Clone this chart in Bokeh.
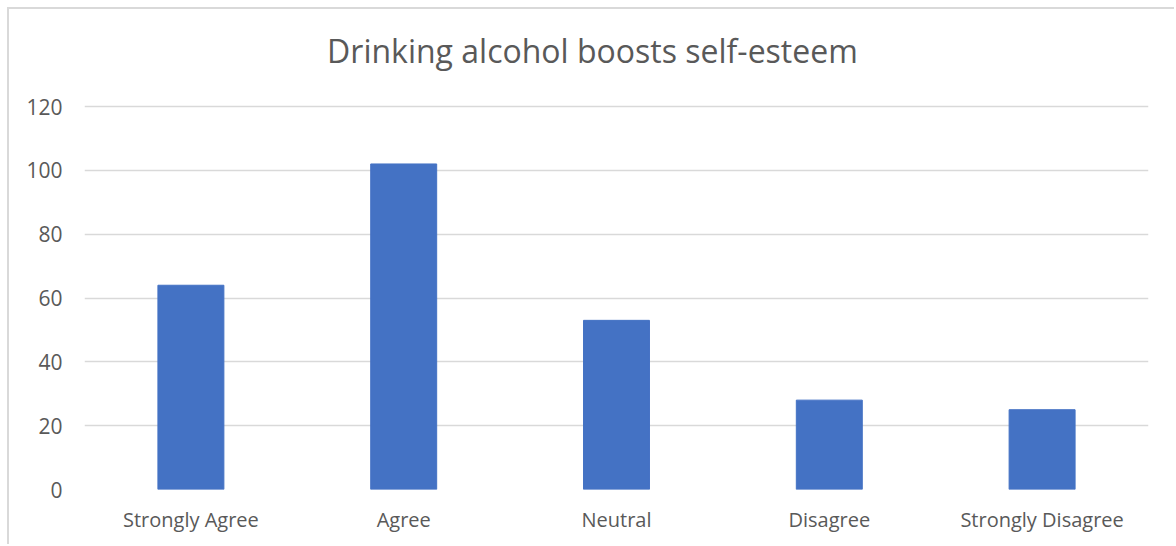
from bokeh.plotting import figure
from bokeh.models import FixedTicker, Range1d, FactorRange, Label
from bokeh.embed import file_html
from bokeh.resources import INLINE

categories = ["Strongly Agree", "Agree", "Neutral", "Disagree", "Strongly Disagree"]
values = [64, 102, 53, 28, 25]
y_ticks = [0, 20, 40, 60, 80, 100, 120]
title_text = "Drinking alcohol boosts self-esteem"

TEXT = "#595959"
GRID = "#D9D9D9"
BAR = "#4472C4"
FONT = "Open Sans"

p = figure(
    x_range=FactorRange(*categories, range_padding=0),
    y_range=Range1d(0, 150.4),
    width=1167, height=537,
    output_backend="svg", toolbar_location=None,
    min_border_left=75, min_border_right=28, min_border_top=0, min_border_bottom=57,
)
p.styles = {"margin-left": "7px", "margin-top": "7px",
            "border-left": "2px solid #D9D9D9", "border-top": "2px solid #D9D9D9"}

p.vbar(x=categories, top=values, width=0.31, color=BAR)

title = Label(x=2.387, y=137.6, text=title_text,
              text_align="center", text_baseline="middle", text_font=FONT,
              text_font_size="32px", text_color=TEXT)
p.add_layout(title)

p.outline_line_color = None
p.xgrid.grid_line_color = None
p.ygrid.grid_line_color = GRID
p.ygrid.grid_line_width = 1.5
p.yaxis.ticker = FixedTicker(ticks=y_ticks)

for ax in (p.xaxis[0], p.yaxis[0]):
    ax.axis_line_color = None
    ax.major_tick_line_color = None
    ax.minor_tick_line_color = None
    ax.major_label_text_font = FONT
    ax.major_label_text_color = TEXT

p.yaxis.major_label_text_font_size = "21px"
p.yaxis.major_label_standoff = 16
p.xaxis.major_label_text_font_size = "20px"
p.xaxis.major_label_standoff = 10

open("out.html", "w").write(file_html(p, INLINE))
